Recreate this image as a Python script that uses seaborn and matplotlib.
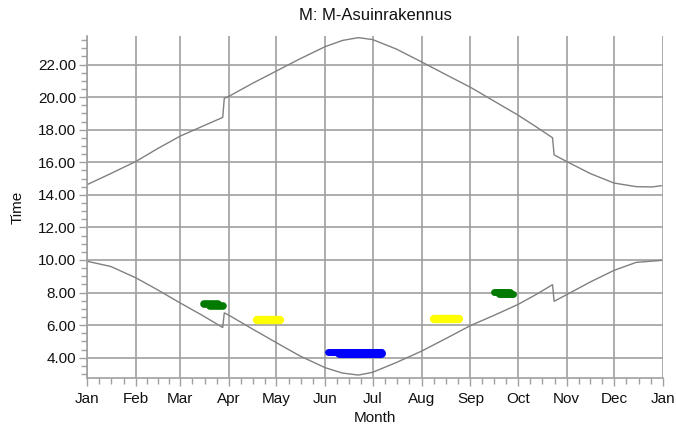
import matplotlib
matplotlib.use("Agg")
import matplotlib.pyplot as plt
import seaborn as sns
import pandas as pd
from matplotlib.ticker import FixedLocator, MultipleLocator, FormatStrFormatter

# day of year for each reading
sunset_day = [0, 15, 31, 45, 59, 73, 86, 87, 90, 105, 120, 135, 151, 162, 172, 181,
              196, 212, 227, 243, 258, 273, 285, 295, 296, 304, 319, 334, 348, 358, 364]
sunset_time = [14.62, 15.3, 16.05, 16.85, 17.6, 18.2, 18.75, 19.92, 20.05, 20.85, 21.6,
               22.35, 23.1, 23.48, 23.65, 23.53, 22.95, 22.16, 21.4, 20.6, 19.75, 18.9,
               18.15, 17.5, 16.45, 16.04, 15.3, 14.72, 14.5, 14.48, 14.56]

sunrise_day = [0, 15, 31, 45, 59, 73, 86, 87, 90, 105, 120, 135, 151, 162, 172, 181,
               196, 212, 227, 243, 258, 273, 285, 295, 296, 304, 319, 334, 348, 364]
sunrise_time = [9.92, 9.6, 8.9, 8.15, 7.36, 6.6, 5.85, 6.75, 6.6, 5.75, 4.92, 4.1,
                3.38, 3.05, 2.93, 3.1, 3.7, 4.4, 5.15, 5.97, 6.6, 7.26, 7.9, 8.48,
                7.46, 7.87, 8.65, 9.36, 9.85, 9.97]

# coloured marks (start day, end day, time)
mark_start = [74, 78, 108, 153, 160, 220, 258, 261]
mark_end = [83, 86, 122, 186, 186, 236, 268, 270]
mark_time = [7.3, 7.2, 6.32, 4.37, 4.3, 6.4, 8.02, 7.93]
mark_color = ['#007a00', '#007a00', '#ffff00', '#0000ff', '#0000ff', '#ffff00', '#007a00', '#007a00']
mark_width = [5.5, 5.5, 6.0, 5.0, 6.5, 6.0, 5.0, 5.0]

month_start = [0, 31, 59, 90, 120, 151, 181, 212, 243, 273, 304, 334, 365]
month_labels = ['Jan', 'Feb', 'Mar', 'Apr', 'May', 'Jun', 'Jul', 'Aug', 'Sep',
                'Oct', 'Nov', 'Dec', 'Jan']

sns.set_style("white")
plt.rcParams['font.family'] = ['Liberation Sans', 'DejaVu Sans']

grid_col = '#a0a0a0'
txt_col = '#111111'
fig = plt.figure(figsize=(6.76, 4.32), dpi=100)
ax = fig.add_axes([87 / 676, 1 - 378 / 432, 576 / 676, 342 / 432])

sns.lineplot(x=sunset_day, y=sunset_time, ax=ax, color='#808080', lw=1.0,
             estimator=None, sort=False)
sns.lineplot(x=sunrise_day, y=sunrise_time, ax=ax, color='#808080', lw=1.0,
             estimator=None, sort=False)

marks = pd.DataFrame({'start': mark_start, 'end': mark_end, 'time': mark_time,
                      'color': mark_color, 'width': mark_width})
for _, m in marks.iterrows():
    ax.plot([m['start'], m['end']], [m['time'], m['time']], color=m['color'],
            lw=m['width'], solid_capstyle='round', zorder=3)

ax.set_xlim(0, 365)
ax.set_ylim(2.75, 23.75)

ax.xaxis.set_major_locator(FixedLocator(month_start))
ax.set_xticklabels(month_labels)
minor_x = []
for a, b in zip(month_start[:-1], month_start[1:]):
    minor_x += [a + (b - a) * k / 4 for k in (1, 2, 3)]
ax.xaxis.set_minor_locator(FixedLocator(minor_x))
ax.yaxis.set_major_locator(MultipleLocator(2))
ax.yaxis.set_minor_locator(MultipleLocator(0.5))
ax.yaxis.set_major_formatter(FormatStrFormatter('%.2f'))

ax.set_axisbelow(True)
ax.grid(True, which='major', color=grid_col, lw=1.2)
for s in ['top', 'right']:
    ax.spines[s].set_visible(False)
for s in ['left', 'bottom']:
    ax.spines[s].set_color(grid_col)
    ax.spines[s].set_linewidth(1.2)

ax.tick_params(which='both', bottom=True, left=True)
ax.tick_params(which='major', direction='out', length=6, width=1.0, color=grid_col,
               labelsize=11, labelcolor=txt_col)
ax.tick_params(which='minor', direction='out', length=4, width=1.0, color=grid_col)
ax.tick_params(axis='y', which='major', pad=2)
ax.tick_params(axis='x', which='major', pad=4)
ax.set_xlabel('')
ax.set_ylabel('')

fig.text(375 / 676, 1 - 15 / 432, 'M: M-Asuinrakennus', ha='center', va='center',
         fontsize=12, color=txt_col)
fig.text(375 / 676, 1 - 418 / 432, 'Month', ha='center', va='center',
         fontsize=11, color=txt_col)
fig.text(18 / 676, 1 - 207 / 432, 'Time', ha='center', va='center', rotation=90,
         fontsize=11, color=txt_col)

fig.savefig('out.png', dpi=100)
